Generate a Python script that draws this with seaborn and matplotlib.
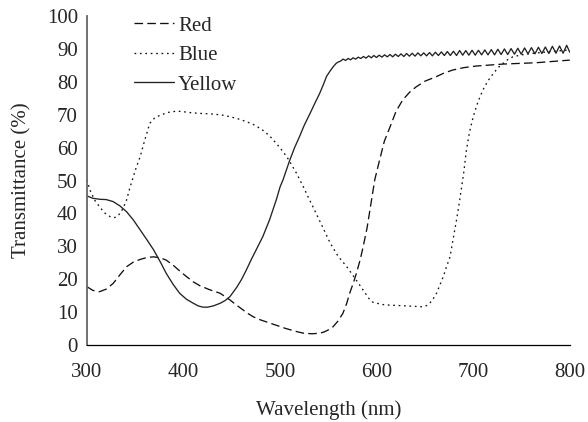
import numpy as np
import pandas as pd
import seaborn as sns
import matplotlib
matplotlib.use("Agg")
import matplotlib.pyplot as plt

# ---------------- data ----------------
red_x = [300, 306, 313, 320, 327, 334, 341, 348, 355, 362, 369, 376, 382, 389, 396,
         403, 410, 417, 427, 438, 448, 454, 460, 466, 472, 479, 486, 493, 500, 506,
         512, 518, 524, 533, 541, 545, 548, 552, 555, 560, 565, 569, 572, 576, 579,
         583, 586, 590, 593, 596, 598, 603, 608, 614, 620, 627, 634, 641, 650, 662,
         670, 679, 690, 703, 731, 765, 800]
red_y = [17.7, 16.6, 16.2, 17.0, 18.7, 21.3, 23.8, 25.2, 26.0, 26.6, 26.8, 26.5, 25.8, 24.3, 22.5,
         20.8, 19.2, 18.0, 16.8, 15.7, 13.7, 12.3, 11.0, 9.7, 8.6, 7.7, 7.0, 6.3, 5.6, 5.0,
         4.5, 4.0, 3.6, 3.4, 3.6, 3.9, 4.3, 4.9, 5.6, 7.3, 9.6, 12.7, 15.7, 19.0, 21.8,
         26.0, 29.9, 35.5, 41.0, 46.5, 50.2, 56.2, 62.0, 66.4, 71.0, 74.5, 76.8, 78.5, 80.2, 81.6,
         82.7, 83.6, 84.3, 84.8, 85.4, 85.8, 86.6]

blue_x = [300, 303, 308, 313, 318, 324, 328, 331, 335, 338, 341, 344, 348, 351, 355,
          360, 365, 370, 376, 384, 393, 400, 408, 417, 431, 440, 448, 456, 465, 474,
          482, 489, 496, 501, 507, 512, 517, 524, 529, 534, 543, 552, 560, 569, 577,
          586, 590, 593, 596, 600, 606, 614, 630, 648, 652, 655, 658, 662, 665, 669,
          672, 676, 679, 683, 686, 690, 693, 696, 700, 705, 710, 715, 721, 726, 731,
          736, 741, 750, 760, 780, 800]
blue_y = [50.2, 47.1, 44.0, 42.0, 40.2, 39.0, 38.7, 39.0, 40.3, 42.0, 44.1, 47.4, 51.2, 54.0, 57.2,
          62.5, 67.4, 69.0, 69.9, 70.7, 71.1, 70.9, 70.6, 70.4, 70.2, 69.9, 69.4, 68.8, 67.9, 66.8,
          65.3, 63.6, 61.3, 59.5, 57.2, 54.7, 52.2, 48.1, 45.0, 42.0, 36.5, 30.9, 27.0, 23.8, 20.5,
          16.7, 15.0, 13.7, 13.0, 12.7, 12.3, 12.1, 11.9, 11.6, 12.0, 12.7, 13.8, 15.7, 17.9, 20.8,
          23.5, 26.8, 31.9, 38.5, 44.1, 52.0, 59.3, 64.5, 69.4, 74.0, 77.5, 80.2, 82.6, 84.4, 85.6,
          86.8, 87.6, 88.2, 88.6, 89.2, 89.7]

yellow_x = [300, 306, 313, 320, 327, 334, 341, 348, 355, 362, 369, 376, 382, 389, 396,
            403, 410, 415, 420, 425, 431, 438, 443, 448, 455, 460, 465, 470, 476, 482,
            489, 496, 500, 503, 510, 515, 520, 525, 531, 536, 541, 545, 548, 552, 555,
            558, 560,
            562.6, 565.2, 567.8, 570.4, 573, 575.6, 578.2, 580.9, 583.6, 586.3, 589,
            591.7, 594.4, 597.1, 599.8, 602.6, 605.4, 608.2, 611, 613.8, 616.6, 619.4,
            622.3, 625.2, 628.1, 631, 633.9, 636.8, 639.7, 642.7, 645.7, 648.7, 651.7,
            654.7, 657.7, 660.8, 663.9, 667, 670.1, 673.2, 676.3, 679.5, 682.7, 685.9,
            689.1, 692.3, 695.5, 698.8, 702.1, 705.4, 708.7, 712, 715.3, 718.7, 722.1,
            725.5, 728.9, 732.3, 735.7, 739.2, 742.7, 746.2, 749.7, 753.2, 756.7, 760.3,
            763.9, 767.5, 771.1, 774.7, 778.3, 782, 785.7, 789.4, 793.1, 796.8, 800]
yellow_y = [45.3, 44.6, 44.3, 44.2, 43.6, 42.3, 40.5, 38.0, 35.0, 32.0, 28.9, 25.2, 21.8, 18.5, 15.7,
            13.9, 12.7, 11.9, 11.5, 11.5, 11.9, 12.7, 13.5, 14.7, 17.5, 19.9, 22.8, 25.9, 29.4, 32.9,
            38.0, 44.1, 48.1, 50.2, 56.2, 60.0, 63.3, 66.8, 70.4, 73.5, 76.5, 79.3, 81.6, 83.4, 84.6,
            85.6, 86.0,
            86.3, 86.9, 86.5, 87.1, 86.7, 87.3, 86.9, 87.5, 87.1, 87.7, 87.2,
            87.9, 87.3, 88.0, 87.4, 88.1, 87.5, 88.2, 87.6, 88.3, 87.6, 88.4,
            87.7, 88.5, 87.7, 88.6, 87.8, 88.7, 87.8, 88.8, 87.9, 88.8, 87.9,
            88.9, 87.9, 89.0, 88.0, 89.1, 88.0, 89.2, 88.0, 89.3, 88.0, 89.5,
            88.1, 89.5, 88.1, 89.6, 88.1, 89.6, 88.2, 89.7, 88.2, 89.8, 88.2,
            89.9, 88.3, 90.0, 88.3, 90.1, 88.4, 90.2, 88.4, 90.3, 88.5, 90.4,
            88.5, 90.5, 88.6, 90.6, 88.6, 90.8, 88.7, 90.9, 88.7, 91.1, 89.0]

series_names = ["Red", "Blue", "Yellow"]
x_ticks = [300, 400, 500, 600, 700, 800]
y_ticks = [0, 10, 20, 30, 40, 50, 60, 70, 80, 90, 100]

# ---------------- build table ----------------
frames = []
for name, xs, ys in [("Red", red_x, red_y), ("Blue", blue_x, blue_y), ("Yellow", yellow_x, yellow_y)]:
    frames.append(pd.DataFrame({"Wavelength": xs, "Transmittance": ys, "Filter": name}))
df = pd.concat(frames, ignore_index=True)

# ---------------- style ----------------
sns.set_style("white")
plt.rcParams["font.family"] = ["Liberation Serif", "DejaVu Serif"]
FS = 15
plt.rcParams["font.size"] = FS

fig = plt.figure(figsize=(5.88, 4.22), dpi=100)
ax = fig.add_axes([0.148, 0.1825, 0.821, 0.7795])

lw = 0.95
sns.lineplot(data=df, x="Wavelength", y="Transmittance", hue="Filter", style="Filter",
             hue_order=series_names, style_order=series_names,
             palette={"Red": "#111111", "Blue": "#111111", "Yellow": "#222222"},
             dashes={"Red": (6.5, 3.2), "Blue": (1.3, 2.8), "Yellow": ""},
             estimator=None, sort=True, linewidth=lw, ax=ax)

ax.set_xlim(300, 800)
ax.set_ylim(0, 100)
ax.set_xticks(x_ticks)
ax.set_yticks(y_ticks)
ax.tick_params(axis="both", direction="out", length=5, width=0.8, labelsize=FS)
ax.tick_params(axis="x", pad=8, color="#555555")
ax.tick_params(axis="y", pad=1.5, color="#555555")

for s in ["top", "right"]:
    ax.spines[s].set_visible(False)
ax.spines["left"].set_color("#666666")
ax.spines["left"].set_linewidth(1.3)
ax.spines["bottom"].set_color("black")
ax.spines["bottom"].set_linewidth(0.9)

ax.set_xlabel("Wavelength (nm)", fontsize=FS, labelpad=13)
ax.set_ylabel("Transmittance (%)", fontsize=FS, labelpad=11)

leg = ax.legend(loc="upper left", bbox_to_anchor=(0.059, 1.057), frameon=False,
                handlelength=1.9, handletextpad=0.2, labelspacing=0.48, fontsize=FS)

fig.savefig("out.png", dpi=100)
